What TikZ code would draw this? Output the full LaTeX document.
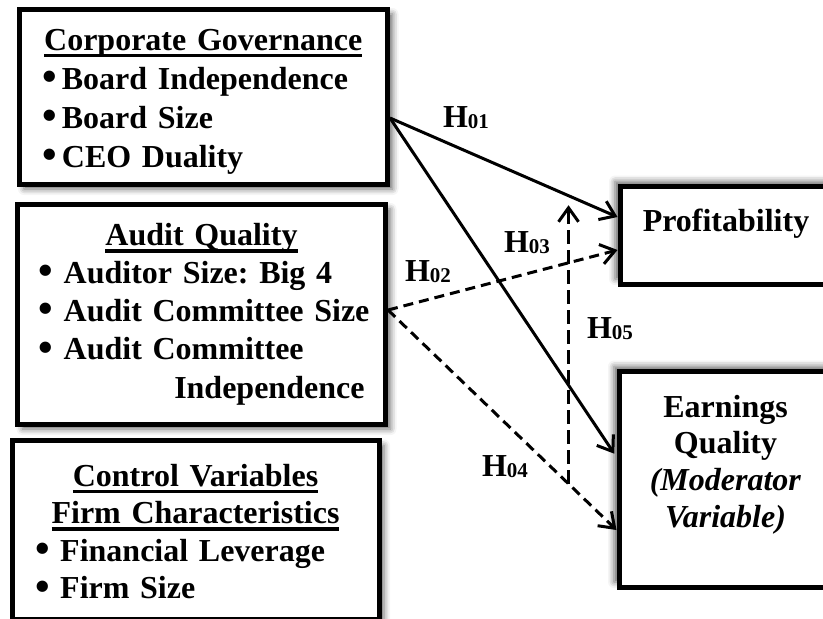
\documentclass[tikz,border=0pt]{standalone}
\usepackage{fontspec}
\setmainfont{Liberation Serif}
\usetikzlibrary{positioning}
\usetikzlibrary{calc}
\usetikzlibrary{arrows.meta}
\usetikzlibrary{shadows.blur}
\frenchspacing

\newcommand\heading[1]{\setbox0\hbox{#1}\rlap{\rule[-3.6pt]{\wd0}{1.7pt}}\box0}
\newcommand\dotmark{\raisebox{-0.6pt}{\scalebox{1.3}{\textbullet}}}
\newcommand\hyp[1]{H\raisebox{-0.5pt}{\fontsize{10.5}{10.5}\selectfont #1}}
\newcommand\lowpad[1]{\rule[-#1]{0pt}{#1}}

\tikzstyle{varbox}=[rectangle,draw=black,line width=2.5pt,fill=white,inner ysep=0pt]
\tikzstyle{leftbox}=[varbox,align=left,inner xsep=11.5pt,blur shadow={shadow xshift=2.5pt,shadow yshift=-2.5pt,shadow blur radius=3pt,shadow opacity=60}]
\tikzstyle{rightbox}=[varbox,align=center,inner xsep=2pt,blur shadow={shadow xshift=-2.5pt,shadow yshift=2.5pt,shadow blur radius=3pt,shadow opacity=60}]
\tikzstyle{link}=[line width=1.5pt,-{Straight Barb[length=7pt,width=10pt]}]
\tikzstyle{dlink}=[link,dash pattern=on 5pt off 3pt]
\tikzstyle{vlink}=[link,dash pattern=on 7pt off 3pt]
\tikzstyle{hlabel}=[inner sep=0pt,font=\fontsize{16}{16}\selectfont\bfseries]

\begin{document}
\begin{tikzpicture}[x=0.5pt,y=-0.5pt]
      \clip (0,0) rectangle (823,618);
      % independent variables
      \node[leftbox,minimum width=184.25pt,minimum height=87.5pt,text width=161.25pt,
            font=\parindent0pt\fontsize{16}{19.5}\selectfont\bfseries] at (203.25,96.5) (cg)
        {\makebox[\hsize]{\rule{0pt}{15.5pt}\heading{Corporate Governance}}\\
         \mbox{\dotmark\,Board Independence}\\
         \dotmark\,Board Size\\
         \dotmark\,CEO Duality};
      \node[leftbox,minimum width=184pt,minimum height=110pt,text width=163pt,inner xsep=10.5pt,
            font=\parindent0pt\fontsize{16}{19.1}\selectfont\bfseries] at (201.5,314) (aq)
        {\makebox[\hsize]{\heading{Audit Quality}}\\
         \mbox{\dotmark{} Auditor Size: Big 4}\\
         \mbox{\dotmark{} Audit Committee Size}\\
         \dotmark{} Audit Committee\\
         \hspace*{\fill}Independence};
      \node[leftbox,minimum width=183.5pt,minimum height=89.25pt,text width=160.5pt,
            font=\parindent0pt\fontsize{16}{18.8}\selectfont\bfseries] at (195.5,529.75) (cv)
        {\makebox[\hsize]{\rule{0pt}{13.25pt}\heading{Control Variables}}\\
         \makebox[\hsize]{\heading{Firm Characteristics}}\\
         \mbox{\dotmark{} Financial Leverage}\\
         \dotmark{} Firm Size};
      % dependent variables
      \node[rightbox,minimum width=106pt,minimum height=48.75pt,
            font=\fontsize{16}{18.35}\selectfont\bfseries] at (726,235.25) (pr)
        {Profitability\lowpad{15.25pt}};
      \node[rightbox,minimum width=106.5pt,minimum height=107.75pt,
            font=\fontsize{16}{18.35}\selectfont\bfseries] at (725.5,479.25) (eq)
        {Earnings\\ Quality\\ \textit{(Moderator}\\ \textit{Variable)}\lowpad{18.25pt}};
      % hypotheses
      \coordinate (cgout) at (cg.east |- 0,118);
      \coordinate (aqout) at (aq.east |- 0,310);
      \coordinate (prin1) at (pr.west |- 0,217);
      \coordinate (prin2) at (pr.west |- 0,250);
      \coordinate (eqin1) at (eq.west |- 0,457);
      \coordinate (eqin2) at (eq.west |- 0,530);
      \coordinate (m05a) at ($(aqout)!0.79!(eqin2)$);
      \coordinate (m05b) at ($(cgout)!0.79!(prin1)$);
      \draw[link] (cgout) -- (prin1);
      \draw[link,shorten >=2pt] (cgout) -- (eqin1);
      \draw[dlink] (aqout) -- (prin2);
      \draw[dlink] (aqout) -- (eqin2);
      \draw[vlink,shorten >=4.5pt] (m05a) -- (m05a |- m05b);
      \node[hlabel] at (466,118) (h01) {\hyp{01}};
      \node[hlabel] at (428,272) (h02) {\hyp{02}};
      \node[hlabel] at (527,243) (h03) {\hyp{03}};
      \node[hlabel] at (505,467) (h04) {\hyp{04}};
      \node[hlabel] at (610,329) (h05) {\hyp{05}};
    \end{tikzpicture}
\end{document}
